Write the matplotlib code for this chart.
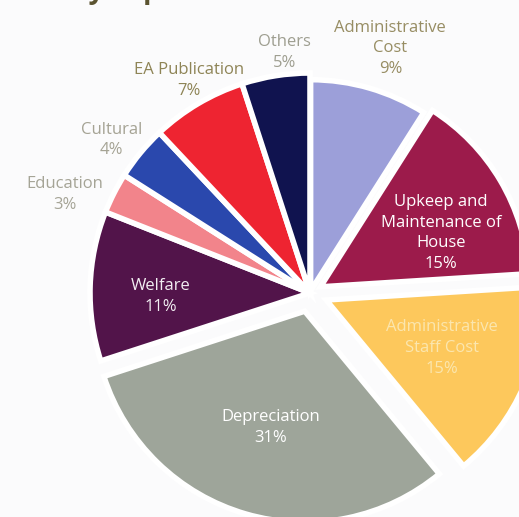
import numpy as np
import matplotlib
matplotlib.use("Agg")
import matplotlib.pyplot as plt

categories = ["Administrative\nCost", "Upkeep and\nMaintenance of\nHouse", "Administrative\nStaff Cost",
              "Depreciation", "Welfare", "Education", "Cultural", "EA Publication", "Others"]
shares = [9, 15, 15, 31, 11, 3, 4, 7, 5]

colors = ["#9c9fd9", "#9c1b4b", "#fdc85c", "#9ea59a", "#52144a", "#f2848b", "#2a48ad", "#ee2431", "#10134f"]
explode = [0.01, 0.055, 0.08, 0.086, 0.0, 0.0, 0.0, 0.0, 0.0]
wedge_radius = [0.96, 0.95, 0.98, 0.96, 1.0, 1.0, 1.0, 1.0, 1.0]
label_dist = [1.16, 0.60, 0.57, 0.55, 0.68, 1.20, 1.14, 1.11, 1.10]
angle_nudge = [-2, -6.5, 1, 0, 3, 5, 2, -1, -3]
label_colors = ["#978d63", "#ffffff", "#fbe6ae", "#ffffff", "#f2eef2", "#a5a496", "#a5a394", "#8e8456", "#9e9e90"]

W, H = 519, 517
cx, cy, R = 310, 293, 220

fig = plt.figure(figsize=(W / 100, H / 100), dpi=100)
fig.patch.set_facecolor("#fbfbfc")
ax = fig.add_axes([0, 0, 1, 1])
ax.set_facecolor("#fbfbfc")

wedges, _ = ax.pie(shares, colors=colors, explode=explode, startangle=90, counterclock=False,
                   wedgeprops=dict(edgecolor="white", linewidth=4))
for w, r in zip(wedges, wedge_radius):
    w.set_radius(r)
ax.set_xlim(-cx / R, (W - cx) / R)
ax.set_ylim(-(H - cy) / R, cy / R)
ax.set_aspect("auto")
ax.axis("off")

for w, lab, val, d, nud, col in zip(wedges, categories, shares, label_dist, angle_nudge, label_colors):
    mid = np.deg2rad((w.theta1 + w.theta2) / 2 + nud)
    x, y = w.center[0] + d * np.cos(mid), w.center[1] + d * np.sin(mid)
    ax.text(x, y, f"{lab}\n{val}%", ha="center", va="center", color=col,
            fontsize=12, family="Open Sans", linespacing=1.4)

fig.text(-0.005, 1 + 2 / H, "iture by Expense", ha="left", va="baseline",
         fontsize=20, color="#5b5330", family="Open Sans", fontweight="bold")

fig.savefig("out.png", dpi=100, facecolor=fig.get_facecolor())
